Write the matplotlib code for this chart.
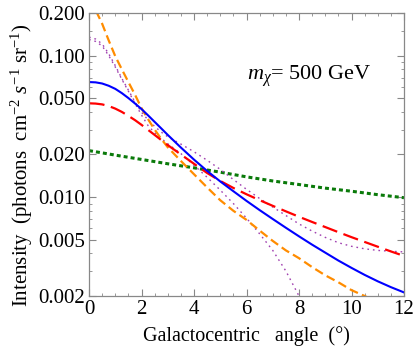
import matplotlib
matplotlib.use("Agg")
import matplotlib.pyplot as plt
from matplotlib.ticker import FixedLocator, MultipleLocator, NullFormatter, FixedFormatter

# ---- data ----
x_blue = [0, 0.25, 0.5, 0.75, 1, 1.25, 1.5, 1.75, 2, 2.25, 2.5, 2.75, 3, 3.5, 4, 4.5, 5,
          5.5, 6, 6.5, 7, 7.5, 8, 8.5, 9, 9.5, 10, 10.5, 11, 11.5, 12]
y_blue = [0.0650, 0.0647, 0.0635, 0.0612, 0.0582, 0.0543, 0.0501, 0.0459, 0.0419, 0.0378,
          0.0340, 0.0306, 0.0275, 0.0224, 0.0184, 0.0153, 0.0129, 0.0110, 0.00940, 0.00809,
          0.00700, 0.00607, 0.00528, 0.00461, 0.00405, 0.00356, 0.00316, 0.00282, 0.00254,
          0.00231, 0.00212]

x_red = [0, 0.25, 0.5, 0.75, 1, 1.25, 1.5, 1.75, 2, 2.5, 3, 3.5, 4, 4.5, 5, 5.5, 6, 6.5,
         7, 7.5, 8, 8.5, 9, 9.5, 10, 10.5, 11, 11.5, 12]
y_red = [0.046, 0.0458, 0.0452, 0.0440, 0.0422, 0.0400, 0.0375, 0.0350, 0.0324, 0.0275,
         0.0233, 0.0200, 0.0172, 0.0148, 0.0130, 0.0116, 0.01047, 0.00951, 0.00867, 0.00793,
         0.00726, 0.00667, 0.00614, 0.00565, 0.00521, 0.00482, 0.00446, 0.00413, 0.00384]

x_green = [0, 1, 2, 3, 4, 5, 6, 7, 8, 9, 10, 11, 12]
y_green = [0.0213, 0.0198, 0.01845, 0.0172, 0.0161, 0.0150, 0.0139, 0.0130, 0.01227,
           0.01157, 0.0110, 0.0104, 0.0099]

x_orange = [0, 0.25, 0.5, 0.75, 1, 1.25, 1.5, 1.75, 2, 2.25, 2.5, 2.75, 3, 3.5, 4, 4.5, 5,
            5.5, 6, 6.5, 7, 7.5, 8, 8.5, 9, 9.5, 10, 10.5, 11, 11.5, 12]
y_orange = [0.26, 0.21, 0.168, 0.128, 0.099, 0.080, 0.065, 0.053, 0.0425, 0.0355, 0.0300,
            0.0258, 0.0225, 0.0180, 0.0145, 0.0117, 0.0095, 0.0080, 0.0069, 0.0058, 0.0049,
            0.0042, 0.0037, 0.0032, 0.0028, 0.0025, 0.0022, 0.0020, 0.0018, 0.00165, 0.0015]

x_purple_a = [0, 0.25, 0.5, 0.75, 1, 1.25, 1.5, 1.75, 2, 2.25, 2.5, 2.75, 3, 3.5, 4, 4.5,
              5, 5.5, 6, 6.5, 7, 7.5, 8, 8.5, 9, 9.5, 10, 10.5, 11, 11.5, 12]
y_purple_a = [0.135, 0.131, 0.121, 0.103, 0.085, 0.069, 0.057, 0.047, 0.0398, 0.0351, 0.0316,
              0.0288, 0.0267, 0.0237, 0.0209, 0.0182, 0.0157, 0.0133, 0.01135, 0.00977,
              0.00851, 0.00741, 0.00646, 0.00575, 0.00519, 0.00476, 0.00449, 0.00431, 0.0042,
              0.00414, 0.0041]

x_purple_b = [0, 0.25, 0.5, 0.75, 1, 1.25, 1.5, 1.75, 2, 2.25, 2.5, 2.75, 3, 3.5, 4, 4.5,
              5, 5.5, 6, 6.5, 7, 7.5, 8, 8.3]
y_purple_b = [0.130, 0.126, 0.117, 0.100, 0.083, 0.068, 0.056, 0.046, 0.038, 0.032, 0.0285,
              0.026, 0.0238, 0.0203, 0.0168, 0.0138, 0.0112, 0.0090, 0.0071, 0.0055, 0.0042,
              0.0030, 0.0020, 0.0016]

y_major = [0.002, 0.005, 0.010, 0.020, 0.050, 0.100, 0.200]
y_major_labels = ["0.002", "0.005", "0.010", "0.020", "0.050", "0.100", "0.200"]
y_minor = [0.003, 0.004, 0.006, 0.007, 0.008, 0.009, 0.03, 0.04, 0.06, 0.07, 0.08, 0.09, 0.15]

plt.rcParams['font.family'] = ['Liberation Serif', 'DejaVu Serif']
plt.rcParams['mathtext.fontset'] = 'custom'
plt.rcParams['mathtext.rm'] = 'Liberation Serif'
plt.rcParams['mathtext.it'] = 'Liberation Serif:italic'

fig = plt.figure(figsize=(4.15, 3.58), dpi=100)
ax = fig.add_axes([0.2145, 0.1732, 0.759, 0.7905])

ax.plot(x_green, y_green, color='#0a7a0a', lw=2.2, dashes=(1.3, 1.0), dash_capstyle='butt')
ax.plot(x_purple_a, y_purple_a, color='#a040b0', lw=1.0, dashes=(1.2, 2.8))
ax.plot(x_purple_b, y_purple_b, color='#a040b0', lw=1.0, dashes=(1.2, 2.8))
ax.plot(x_orange, y_orange, color='#ff8c00', lw=1.6, dashes=(4.0, 2.0))
ax.plot(x_red, y_red, color='#ff0000', lw=1.6, dashes=(7.0, 3.0))
ax.plot(x_blue, y_blue, color='#0000ff', lw=1.5)

ax.set_yscale('log')
ax.set_xlim(0, 12)
ax.set_ylim(0.002, 0.2)

ax.yaxis.set_major_locator(FixedLocator(y_major))
ax.yaxis.set_major_formatter(FixedFormatter(y_major_labels))
ax.yaxis.set_minor_locator(FixedLocator(y_minor))
ax.yaxis.set_minor_formatter(NullFormatter())
ax.xaxis.set_major_locator(MultipleLocator(2))
ax.xaxis.set_minor_locator(MultipleLocator(0.5))

for s in ax.spines.values():
    s.set_color('#888888')
    s.set_linewidth(0.9)
ax.tick_params(which='both', direction='in', top=True, right=True, color='#888888',
               labelsize=15, pad=3)
ax.tick_params(which='major', length=5, width=0.8)
ax.tick_params(which='minor', length=2.5, width=0.6)

ax.set_xlabel("Galactocentric   angle  (°)", fontsize=14.5, labelpad=5)
ax.set_ylabel(r"Intensity  (photons  cm$^{-2}$ $s^{-1}$ sr$^{-1}$)", fontsize=15)
ax.yaxis.set_label_coords(-0.17, 0.463)

ax.text(0.502, 0.765, r"$m_{\chi}$= 500 GeV", transform=ax.transAxes, fontsize=16)

fig.savefig("out.png", dpi=100)
